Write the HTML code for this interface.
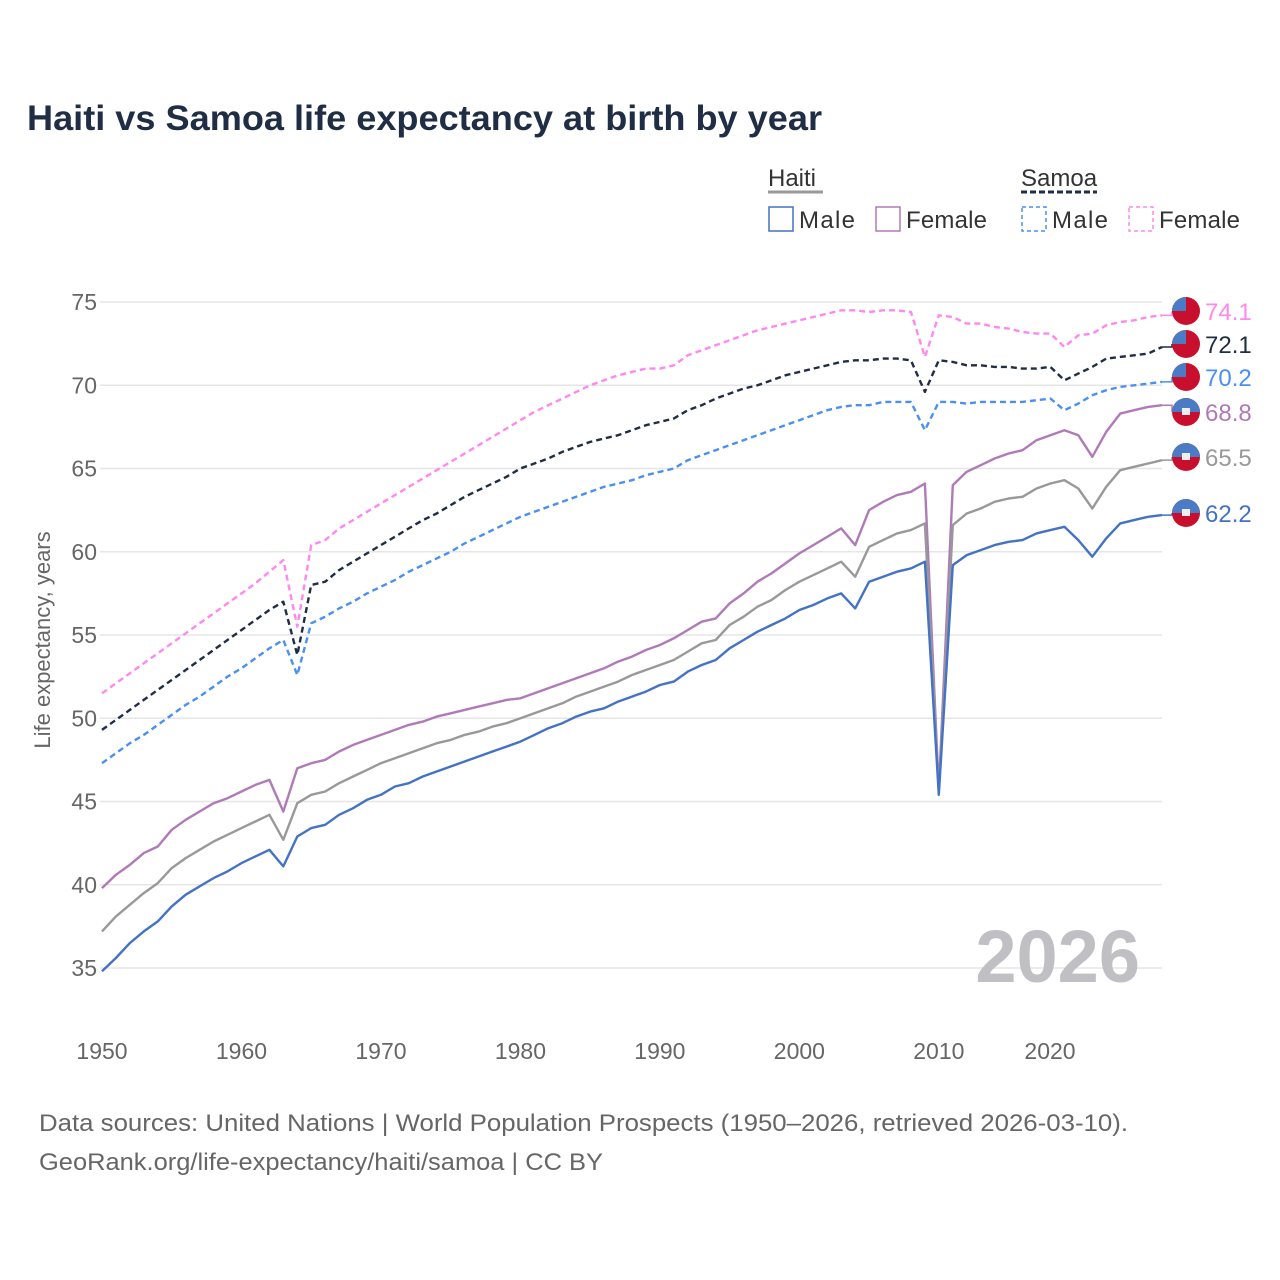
<!DOCTYPE html>
<html><head><meta charset="utf-8"><style>
body{margin:0;background:#fff;font-family:"Liberation Sans",sans-serif}
svg{display:block}
</style></head><body>
<svg id="c" width="1280" height="1280" xmlns="http://www.w3.org/2000/svg">
<text x="27" y="130" font-size="35" font-weight="bold" fill="#1f2d45" textLength="795" lengthAdjust="spacingAndGlyphs">Haiti vs Samoa life expectancy at birth by year</text>
<g font-size="24" fill="#333">
<text x="768" y="186" fill="#333">Haiti</text>
<line x1="768" y1="192" x2="823" y2="192" stroke="#999" stroke-width="3"/>
<text x="1021" y="186" fill="#333">Samoa</text>
<line x1="1021" y1="192" x2="1097" y2="192" stroke="#1f2d45" stroke-width="3" stroke-dasharray="6,3"/>
<g><rect x="769" y="207" width="24" height="24" fill="none" stroke="#4472c4" stroke-width="1.5"/><text x="799" y="228" textLength="56">Male</text></g>
<g><rect x="876" y="207" width="24" height="24" fill="none" stroke="#b07ab8" stroke-width="1.5"/><text x="906" y="228" textLength="81">Female</text></g>
<g><rect x="1022" y="207" width="24" height="24" fill="none" stroke="#4a90f0" stroke-width="1.5" stroke-dasharray="4,3"/><text x="1052" y="228" textLength="56">Male</text></g>
<g><rect x="1129" y="207" width="24" height="24" fill="none" stroke="#ff88ee" stroke-width="1.5" stroke-dasharray="4,3"/><text x="1159" y="228" textLength="81">Female</text></g>
</g>
<g id="grid"></g>
<g id="yt"></g>
<g id="xt"></g>
<text transform="translate(50,640) rotate(-90)" text-anchor="middle" font-size="22" fill="#666">Life expectancy, years</text>
<text x="1140" y="982" text-anchor="end" font-size="74" font-weight="bold" fill="#c0c0c4">2026</text>
<g id="series"></g>
<g id="labels"></g>
<text x="39" y="1131" font-size="24" fill="#666" textLength="1089" lengthAdjust="spacingAndGlyphs">Data sources: United Nations | World Population Prospects (1950–2026, retrieved 2026-03-10).</text>
<text x="39" y="1170" font-size="24" fill="#666" textLength="564" lengthAdjust="spacingAndGlyphs">GeoRank.org/life-expectancy/haiti/samoa | CC BY</text>
</svg>
<script>
const yTicks=[35,40,45,50,55,60,65,70,75];
const xTicks=[1950,1960,1970,1980,1990,2000,2010,2020];
const startYear=1950;
const haitiFemale=[39.8,40.6,41.2,41.9,42.3,43.3,43.9,44.4,44.9,45.2,45.6,46.0,46.3,44.4,47.0,47.3,47.5,48.0,48.4,48.7,49.0,49.3,49.6,49.8,50.1,50.3,50.5,50.7,50.9,51.1,51.2,51.5,51.8,52.1,52.4,52.7,53.0,53.4,53.7,54.1,54.4,54.8,55.3,55.8,56.0,56.9,57.5,58.2,58.7,59.3,59.9,60.4,60.9,61.4,60.4,62.5,63.0,63.4,63.6,64.1,45.7,64.0,64.8,65.2,65.6,65.9,66.1,66.7,67.0,67.3,67.0,65.7,67.2,68.3,68.5,68.7,68.8];
const haitiAll=[37.2,38.1,38.8,39.5,40.1,41.0,41.6,42.1,42.6,43.0,43.4,43.8,44.2,42.7,44.9,45.4,45.6,46.1,46.5,46.9,47.3,47.6,47.9,48.2,48.5,48.7,49.0,49.2,49.5,49.7,50.0,50.3,50.6,50.9,51.3,51.6,51.9,52.2,52.6,52.9,53.2,53.5,54.0,54.5,54.7,55.6,56.1,56.7,57.1,57.7,58.2,58.6,59.0,59.4,58.5,60.3,60.7,61.1,61.3,61.7,45.6,61.6,62.3,62.6,63.0,63.2,63.3,63.8,64.1,64.3,63.8,62.6,63.9,64.9,65.1,65.3,65.5];
const haitiMale=[34.8,35.6,36.5,37.2,37.8,38.7,39.4,39.9,40.4,40.8,41.3,41.7,42.1,41.1,42.9,43.4,43.6,44.2,44.6,45.1,45.4,45.9,46.1,46.5,46.8,47.1,47.4,47.7,48.0,48.3,48.6,49.0,49.4,49.7,50.1,50.4,50.6,51.0,51.3,51.6,52.0,52.2,52.8,53.2,53.5,54.2,54.7,55.2,55.6,56.0,56.5,56.8,57.2,57.5,56.6,58.2,58.5,58.8,59.0,59.4,45.4,59.2,59.8,60.1,60.4,60.6,60.7,61.1,61.3,61.5,60.7,59.7,60.8,61.7,61.9,62.1,62.2];
const samoaFemale=[51.5,52.1,52.7,53.3,53.9,54.5,55.1,55.7,56.3,56.9,57.5,58.1,58.8,59.5,55.5,60.4,60.7,61.4,61.9,62.4,62.9,63.4,63.9,64.4,64.9,65.4,65.9,66.4,66.9,67.4,67.9,68.4,68.8,69.2,69.6,70.0,70.3,70.6,70.8,71.0,71.0,71.2,71.8,72.1,72.4,72.7,73.0,73.3,73.5,73.7,73.9,74.1,74.3,74.5,74.5,74.4,74.5,74.5,74.4,71.7,74.2,74.1,73.7,73.7,73.5,73.4,73.2,73.1,73.1,72.3,73.0,73.1,73.6,73.8,73.9,74.1,74.2];
const samoaAll=[49.3,49.9,50.5,51.1,51.7,52.3,52.9,53.5,54.1,54.7,55.3,55.9,56.5,57.0,53.8,58.0,58.2,58.9,59.4,59.9,60.4,60.9,61.4,61.9,62.3,62.8,63.3,63.7,64.1,64.5,65.0,65.3,65.6,66.0,66.3,66.6,66.8,67.0,67.3,67.6,67.8,68.0,68.5,68.8,69.2,69.5,69.8,70.0,70.3,70.6,70.8,71.0,71.2,71.4,71.5,71.5,71.6,71.6,71.5,69.6,71.5,71.4,71.2,71.2,71.1,71.1,71.0,71.0,71.1,70.3,70.7,71.1,71.6,71.7,71.8,71.9,72.3];
const samoaMale=[47.3,47.9,48.5,49.0,49.6,50.2,50.8,51.3,51.9,52.5,53.0,53.6,54.2,54.7,52.6,55.7,56.1,56.6,57.0,57.5,57.9,58.3,58.8,59.2,59.6,60.0,60.5,60.9,61.3,61.7,62.1,62.4,62.7,63.0,63.3,63.6,63.9,64.1,64.3,64.6,64.8,65.0,65.5,65.8,66.1,66.4,66.7,67.0,67.3,67.6,67.9,68.2,68.5,68.7,68.8,68.8,69.0,69.0,69.0,67.3,69.0,69.0,68.9,69.0,69.0,69.0,69.0,69.1,69.2,68.5,68.9,69.4,69.7,69.9,70.0,70.1,70.2];
const labelValues=["74.1","72.1","70.2","68.8","65.5","62.2"];

const NS="http://www.w3.org/2000/svg";
const X0=102,X1=1162,Y0=968,Y1=302;
function x(yr){return X0+(yr-1950)*(X1-X0)/76;}
function y(v){return Y0-(v-35)*(Y0-Y1)/40;}
function mk(t,a,p){const e=document.createElementNS(NS,t);for(const k in a)e.setAttribute(k,a[k]);p.appendChild(e);return e;}
const grid=document.getElementById('grid'),yt=document.getElementById('yt'),xt=document.getElementById('xt');
yTicks.forEach(v=>{
 const l=mk('line',{x1:100,x2:X1,y1:y(v),y2:y(v),stroke:'#e6e6e6','stroke-width':1.5},grid);
 
 
 const t=mk('text',{x:97,y:y(v)+8,'text-anchor':'end','font-size':23,fill:'#666'},yt);t.textContent=v;
 
 
});
xTicks.forEach(v=>{
 const px=v===2020?1050:x(v);
 const t=mk('text',{x:px,y:1059,'text-anchor':'middle','font-size':23,fill:'#666'},xt);t.textContent=v;
 
 
});
const series=[
 {d:samoaFemale,c:'#ff88ee',dash:'6,4',n:'samoa-female',ly:311},
 {d:samoaAll,c:'#1f2d45',dash:'6,4',n:'samoa-all',ly:344},
 {d:samoaMale,c:'#4a90f0',dash:'6,4',n:'samoa-male',ly:377},
 {d:haitiFemale,c:'#b07ab8',dash:null,n:'haiti-female',ly:412},
 {d:haitiAll,c:'#999999',dash:null,n:'haiti-all',ly:457},
 {d:haitiMale,c:'#4472c4',dash:null,n:'haiti-male',ly:513}
];
const sg=document.getElementById('series'),lg=document.getElementById('labels');
series.forEach((s,i)=>{
 const pts=s.d.map((v,k)=>x(startYear+k).toFixed(1)+','+y(v).toFixed(1)).join(' ');
 const a={points:pts,fill:'none',stroke:s.c,'stroke-width':2.4,'stroke-linejoin':'round'};
 if(s.dash)a['stroke-dasharray']=s.dash;
 const p=mk('polyline',a,sg);
 
 
 const last=s.d[s.d.length-1];
 const ly=s.ly;
 mk('polyline',{points:`${X1},${y(last)} ${X1+10},${y(last)} ${X1+10},${ly}`,fill:'none',stroke:s.c,'stroke-width':1.5},lg);
 const g=mk('g',{},lg);
 
 
 const cx=1186;
 mk('circle',{cx:cx,cy:ly,r:14,fill:'#c8102e'},g);
 if(s.n.startsWith('samoa')){
  mk('path',{d:`M${cx},${ly} L${cx-14},${ly} A14,14 0 0 1 ${cx},${ly-14} Z`,fill:'#4a7bc4'},g);
 }else{
  mk('path',{d:`M${cx-14},${ly} A14,14 0 0 1 ${cx+14},${ly} Z`,fill:'#4a7bc4'},g);
  mk('rect',{x:cx-4,y:ly-4,width:8,height:7,fill:'#eee'},g);
 }
 const t=mk('text',{x:1205,y:ly+9,'font-size':24,fill:s.c},g);t.textContent=labelValues[i];
});
</script>
</body></html>
